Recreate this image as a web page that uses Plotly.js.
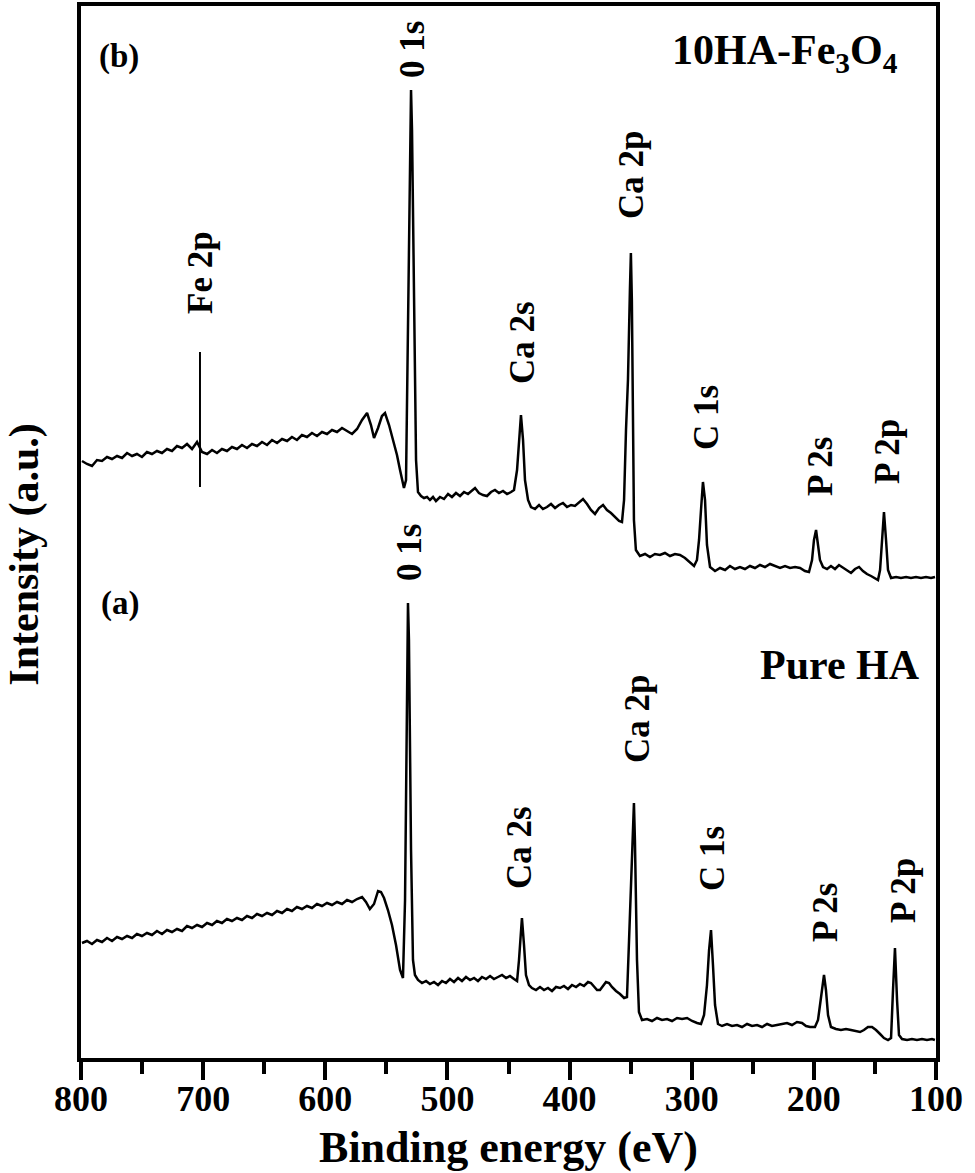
<!DOCTYPE html>
<html>
<head>
<meta charset="utf-8">
<script src="https://cdn.plot.ly/plotly-3.0.1.min.js"></script>
<style>
  body { margin: 0; background: #fff; }
  #plot { width: 975px; height: 1173px; }
</style>
</head>
<body>
<div id="plot"></div>
<script>
// (b) 10HA-Fe3O4 survey spectrum, binding energy (eV) and intensity (a.u.)
var energyB = [799.2, 795.1, 791.0, 786.9, 782.8, 778.7, 774.6, 770.5, 766.4, 762.3, 758.2, 754.2, 750.1, 746.0, 741.9, 737.8,
  733.7, 729.6, 725.5, 721.4, 717.3, 713.2, 709.1, 705.0, 700.9, 696.8, 692.7, 688.7, 684.6, 680.5, 676.4, 672.3,
  668.2, 664.1, 660.0, 655.9, 651.8, 647.7, 643.6, 639.5, 635.4, 631.3, 627.3, 623.2, 619.1, 615.0, 610.9, 606.8,
  602.7, 598.6, 594.5, 590.4, 586.3, 582.2, 578.1, 574.0, 569.9, 565.8, 562.6, 560.1, 556.8, 553.6, 551.1, 547.8,
  544.6, 541.3, 538.8, 535.6, 533.9, 532.3, 530.7, 529.8, 529.0, 527.4, 525.7, 524.1, 521.6, 519.2, 516.7, 514.3,
  511.8, 509.4, 506.1, 502.8, 499.5, 496.3, 493.0, 489.7, 486.4, 483.2, 479.9, 477.4, 474.2, 470.9, 467.6, 464.3,
  461.1, 457.8, 454.5, 451.2, 447.9, 445.5, 443.0, 441.4, 439.8, 438.1, 436.5, 434.0, 431.6, 428.3, 425.0, 421.8,
  418.5, 415.2, 411.9, 408.7, 405.4, 402.1, 398.8, 395.6, 392.3, 389.0, 385.7, 382.5, 379.2, 375.9, 372.6, 369.4,
  366.1, 362.8, 359.5, 357.1, 355.4, 353.8, 352.2, 350.6, 349.8, 349.0, 348.1, 347.3, 345.7, 342.4, 338.2, 334.2,
  330.1, 326.0, 321.9, 317.8, 313.7, 309.6, 305.5, 301.4, 298.1, 295.7, 294.0, 292.4, 290.8, 289.1, 287.5, 285.0,
  280.9, 276.8, 272.7, 268.7, 264.6, 260.5, 256.4, 252.3, 248.2, 244.1, 240.0, 235.9, 231.8, 227.7, 223.6, 219.5,
  215.4, 211.3, 207.3, 204.0, 201.5, 199.9, 198.2, 196.6, 195.0, 192.5, 189.2, 186.0, 182.7, 179.4, 176.1, 172.9,
  169.6, 166.3, 163.0, 159.8, 156.5, 153.2, 149.9, 147.5, 145.8, 144.2, 142.6, 140.9, 139.3, 136.8, 132.7, 128.7,
  124.5, 120.5, 116.4, 112.3, 108.2, 104.1, 100.8];
var intensityB = [597, 594, 592, 598, 597, 601, 599, 602, 600, 605, 602, 604, 601, 606, 604, 607,
  605, 609, 607, 612, 610, 614, 609, 616, 606, 604, 608, 605, 609, 607, 611, 609,
  613, 610, 614, 612, 616, 613, 618, 615, 619, 617, 621, 618, 623, 621, 625, 622,
  626, 624, 628, 626, 630, 627, 624, 629, 638, 645, 633, 620, 630, 642, 645, 633,
  618, 603, 588, 570, 578, 728, 908, 968, 928, 738, 598, 566, 562, 560, 561, 558,
  561, 557, 561, 559, 564, 561, 565, 562, 566, 564, 568, 570, 565, 563, 562, 566,
  568, 565, 567, 564, 566, 568, 588, 618, 643, 618, 578, 558, 551, 549, 553, 549,
  551, 554, 550, 553, 555, 551, 553, 552, 556, 559, 554, 548, 544, 550, 553, 548,
  545, 541, 537, 536, 558, 628, 678, 768, 805, 758, 628, 538, 508, 502, 504, 501,
  504, 503, 505, 502, 504, 503, 500, 496, 492, 498, 518, 548, 576, 558, 513, 491,
  487, 490, 488, 492, 489, 491, 489, 492, 490, 493, 491, 494, 492, 490, 492, 490,
  491, 490, 487, 486, 498, 518, 528, 513, 498, 491, 489, 492, 489, 493, 490, 488,
  485, 489, 491, 487, 484, 482, 480, 478, 488, 523, 546, 518, 488, 480, 481, 480,
  481, 480, 481, 480, 481, 480, 481];

// (a) pure HA survey spectrum
var energyA = [799.2, 795.1, 791.0, 786.9, 782.8, 778.7, 774.6, 770.5, 766.4, 762.3, 758.2, 754.2, 750.1, 746.0, 741.9, 737.8,
  733.7, 729.6, 725.5, 721.4, 717.3, 713.2, 709.1, 705.0, 700.9, 696.8, 692.7, 688.7, 684.6, 680.5, 676.4, 672.3,
  668.2, 664.1, 660.0, 655.9, 651.8, 647.7, 643.6, 639.5, 635.4, 631.3, 627.3, 623.2, 619.1, 615.0, 610.9, 606.8,
  602.7, 598.6, 594.5, 590.4, 586.3, 582.2, 578.1, 574.0, 569.9, 566.7, 563.5, 560.1, 556.8, 554.4, 551.9, 548.7,
  545.4, 542.1, 538.8, 536.4, 534.7, 533.1, 532.3, 531.5, 529.8, 528.2, 526.6, 524.1, 520.8, 517.5, 514.3, 511.0,
  507.7, 504.4, 501.2, 497.9, 494.6, 491.3, 488.1, 484.8, 481.5, 478.2, 475.0, 471.7, 468.4, 465.1, 461.9, 458.6,
  455.3, 452.0, 448.8, 445.5, 443.0, 441.4, 439.8, 439.0, 437.3, 435.7, 433.2, 430.8, 427.5, 424.2, 420.9, 417.7,
  414.4, 411.1, 407.8, 404.6, 401.3, 398.0, 394.7, 391.5, 388.2, 384.9, 382.5, 380.0, 377.5, 375.1, 372.6, 370.2,
  367.7, 365.3, 362.0, 358.7, 355.4, 353.0, 351.3, 349.7, 348.1, 347.3, 346.5, 344.8, 343.2, 340.7, 336.6, 332.5,
  328.4, 324.3, 320.2, 316.1, 312.0, 307.9, 303.8, 299.7, 295.6, 292.4, 289.9, 287.5, 285.8, 284.2, 282.6, 280.9,
  278.5, 275.2, 271.1, 267.0, 262.9, 258.8, 254.7, 250.6, 246.5, 242.4, 238.3, 234.3, 230.2, 226.1, 222.0, 217.9,
  213.8, 209.7, 206.4, 203.1, 199.1, 196.6, 194.2, 192.5, 191.7, 190.1, 188.4, 186.0, 181.9, 177.8, 173.7, 169.6,
  165.5, 162.2, 159.0, 155.7, 152.4, 149.1, 145.8, 142.6, 139.3, 136.8, 135.2, 133.6, 131.9, 130.3, 127.8, 123.7,
  119.7, 115.6, 111.5, 107.4, 103.3, 100.9];
var intensityA = [115, 117, 114, 118, 116, 120, 117, 121, 119, 122, 120, 124, 122, 125, 123, 127,
  124, 128, 126, 129, 127, 132, 130, 133, 131, 135, 133, 137, 135, 139, 137, 140,
  138, 142, 140, 144, 142, 145, 143, 147, 145, 149, 147, 151, 149, 152, 150, 154,
  152, 155, 153, 156, 154, 158, 156, 159, 161, 156, 149, 154, 167, 166, 160, 148,
  133, 113, 88, 80, 158, 358, 455, 418, 208, 98, 83, 78, 75, 77, 74, 76,
  73, 77, 75, 79, 76, 80, 77, 81, 78, 80, 77, 81, 79, 82, 79, 81,
  83, 80, 82, 79, 77, 98, 133, 140, 113, 83, 73, 70, 68, 71, 68, 70,
  67, 71, 70, 72, 69, 73, 71, 74, 72, 76, 75, 71, 68, 68, 72, 76,
  75, 71, 67, 64, 60, 61, 118, 168, 228, 255, 218, 98, 46, 38, 39, 37,
  40, 38, 39, 37, 40, 39, 40, 37, 35, 34, 43, 73, 108, 128, 93, 53,
  34, 32, 34, 32, 33, 31, 34, 32, 33, 31, 34, 32, 33, 34, 35, 33,
  36, 35, 32, 31, 31, 38, 63, 80, 83, 68, 43, 31, 29, 28, 29, 28,
  27, 26, 28, 31, 31, 28, 24, 20, 18, 20, 68, 110, 58, 23, 19, 18,
  19, 18, 19, 18, 19, 18];

// peak labels
var peakNamesB = ["0 1s", "Fe 2p", "Ca 2s", "Ca 2p", "C 1s", "P 2s", "P 2p"];
var peakNamesA = ["0 1s", "Ca 2s", "Ca 2p", "C 1s", "P 2s", "P 2p"];
var feMarkerEnergy = 702.6;
var feMarkerSpan = [571, 706];

var serif = "Liberation Serif, Times New Roman, serif";

// label placement (energy, intensity) for each peak name
var labelPosB = [[529, 1008], [702.6, 786], [438.9, 715], [349.7, 883], [288.3, 640], [195.0, 592], [140.1, 606]];
var labelPosA = [[531.5, 506], [441.4, 210], [344.8, 340], [283.4, 200], [190.9, 146], [127.0, 167]];

var annotations = [];
function addPeakLabels(names, pos) {
  names.forEach(function (name, i) {
    annotations.push({
      x: pos[i][0], y: pos[i][1], text: "<b>" + name + "</b>",
      textangle: -90, showarrow: false, xanchor: "center", yanchor: "middle",
      font: {family: serif, size: 35, color: "#000"}
    });
  });
}
addPeakLabels(peakNamesB, labelPosB);
addPeakLabels(peakNamesA, labelPosA);

annotations.push(
  {x: 223.6, y: 1005, text: "<b>10HA-Fe<sub>3</sub>O<sub>4</sub></b>", showarrow: false,
   xanchor: "center", yanchor: "middle", font: {family: serif, size: 42, color: "#000"}},
  {x: 178.6, y: 393, text: "<b>Pure HA</b>", showarrow: false,
   xanchor: "center", yanchor: "middle", font: {family: serif, size: 42, color: "#000"}},
  {x: 768.9, y: 1002, text: "<b>(b)</b>", showarrow: false,
   xanchor: "center", yanchor: "middle", font: {family: serif, size: 33, color: "#000"}},
  {x: 768.1, y: 455, text: "<b>(a)</b>", showarrow: false,
   xanchor: "center", yanchor: "middle", font: {family: serif, size: 33, color: "#000"}},
  // y-axis title, set a bit below the plot centre as in the original
  {xref: "paper", yref: "paper", x: -0.066, y: 0.479, text: "<b>Intensity (a.u.)</b>",
   textangle: -90, showarrow: false, xanchor: "center", yanchor: "middle",
   font: {family: serif, size: 42, color: "#000"}}
);

var traceB = {
  x: energyB, y: intensityB, mode: "lines", type: "scatter",
  line: {color: "#000", width: 2.5}, showlegend: false
};
var traceA = {
  x: energyA, y: intensityA, mode: "lines", type: "scatter",
  line: {color: "#000", width: 2.5}, showlegend: false
};

var layout = {
  width: 975, height: 1173,
  margin: {l: 81, r: 39, t: 6, b: 115},
  paper_bgcolor: "#fff", plot_bgcolor: "#fff",
  xaxis: {
    range: [800, 100], dtick: 100, tick0: 100,
    ticks: "outside", ticklen: 18, tickwidth: 4, tickcolor: "#000",
    ticklabelstandoff: -12,
    showline: true, linewidth: 4, linecolor: "#000", mirror: true,
    showgrid: false, zeroline: false,
    tickfont: {family: serif, size: 36, color: "#000", weight: "bold"},
    minor: {dtick: 50, ticks: "outside", ticklen: 12, tickwidth: 4, tickcolor: "#000", showgrid: false},
    title: {text: "<b>Binding energy (eV)</b>", font: {family: serif, size: 44, color: "#000"}, standoff: 14}
  },
  yaxis: {
    range: [0, 1052], showticklabels: false, ticks: "",
    showline: true, linewidth: 4, linecolor: "#000", mirror: true,
    showgrid: false, zeroline: false
  },
  shapes: [{
    type: "line", xref: "x", yref: "y",
    x0: feMarkerEnergy, x1: feMarkerEnergy, y0: feMarkerSpan[0], y1: feMarkerSpan[1],
    line: {color: "#000", width: 2}
  }],
  annotations: annotations
};

Plotly.newPlot("plot", [traceB, traceA], layout, {displayModeBar: false, staticPlot: true});
</script>
</body>
</html>
